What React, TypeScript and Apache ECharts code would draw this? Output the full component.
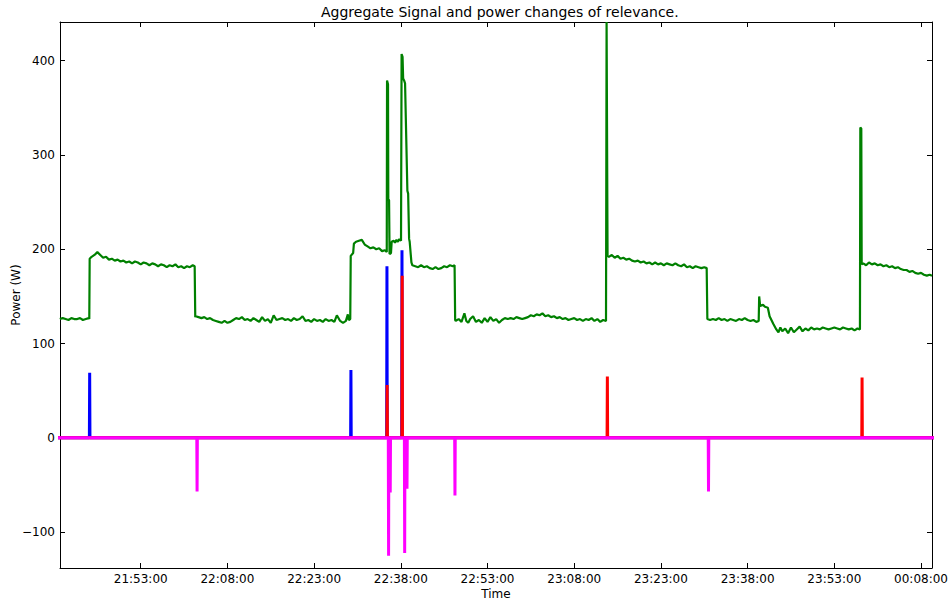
import { useEffect, useRef } from "react";
import * as echarts from "echarts";

// Visible time window and axis ticks
const timeStart = "21:39:02";
const timeEnd = "00:09:54";
const timeTicks = [
  "21:53:00", "22:08:00", "22:23:00", "22:38:00", "22:53:00",
  "23:08:00", "23:23:00", "23:38:00", "23:53:00", "00:08:00",
];
const powerTicks = [-100, 0, 100, 200, 300, 400];
const powerMin = -138;
const powerMax = 441;

// Aggregate mains signal, watts
const aggregateSignal: [string, number][] = [
  ["21:39:00", 126], ["21:39:30", 127], ["21:40:00", 126], ["21:40:30", 125], ["21:41:00", 127],
  ["21:41:30", 126], ["21:42:00", 126], ["21:42:30", 127], ["21:43:00", 125], ["21:43:30", 126],
  ["21:44:00", 127], ["21:44:06", 126], ["21:44:10", 190],
  ["21:44:30", 192], ["21:45:00", 194], ["21:45:30", 197], ["21:46:00", 194], ["21:46:30", 191],
  ["21:47:00", 192], ["21:47:30", 189], ["21:48:00", 190], ["21:48:30", 188], ["21:49:00", 189],
  ["21:49:30", 187], ["21:50:00", 188], ["21:50:30", 186], ["21:51:00", 187], ["21:51:30", 185],
  ["21:52:00", 187], ["21:52:30", 186], ["21:53:00", 184], ["21:53:30", 186], ["21:54:00", 185],
  ["21:54:30", 183], ["21:55:00", 185], ["21:55:30", 184], ["21:56:00", 182], ["21:56:30", 184],
  ["21:57:00", 183], ["21:57:30", 181], ["21:58:00", 183], ["21:58:30", 182], ["21:59:00", 184],
  ["21:59:30", 181], ["22:00:00", 182], ["22:00:30", 180], ["22:01:00", 182], ["22:01:30", 181],
  ["22:02:00", 183], ["22:02:20", 182], ["22:02:26", 128],
  ["22:02:30", 129], ["22:03:00", 128], ["22:03:30", 127], ["22:04:00", 128], ["22:04:30", 126],
  ["22:05:00", 127], ["22:05:30", 125], ["22:06:00", 124], ["22:06:30", 123], ["22:07:00", 122],
  ["22:07:30", 124], ["22:08:00", 122], ["22:08:30", 123], ["22:09:00", 125], ["22:09:30", 127],
  ["22:10:00", 126], ["22:10:30", 128], ["22:11:00", 125], ["22:11:30", 126], ["22:12:00", 124],
  ["22:12:30", 127], ["22:13:00", 125], ["22:13:30", 123], ["22:14:00", 128], ["22:14:30", 124],
  ["22:15:00", 126], ["22:15:30", 122], ["22:16:00", 130], ["22:16:30", 125], ["22:17:00", 126],
  ["22:17:30", 127], ["22:18:00", 125], ["22:18:30", 126], ["22:19:00", 124], ["22:19:30", 127],
  ["22:20:00", 125], ["22:20:30", 126], ["22:21:00", 129], ["22:21:30", 124], ["22:22:00", 125],
  ["22:22:30", 123], ["22:23:00", 126], ["22:23:30", 124], ["22:24:00", 125], ["22:24:30", 123],
  ["22:25:00", 126], ["22:25:30", 124], ["22:26:00", 125], ["22:26:30", 123], ["22:26:56", 130],
  ["22:27:30", 124], ["22:28:00", 122], ["22:28:30", 124], ["22:28:50", 131], ["22:29:00", 125],
  ["22:29:15", 126], ["22:29:20", 193],
  ["22:29:45", 196], ["22:29:53", 206], ["22:30:15", 208], ["22:30:45", 209], ["22:31:15", 210],
  ["22:31:45", 205], ["22:32:15", 203], ["22:32:45", 201], ["22:33:15", 202], ["22:33:45", 200],
  ["22:34:15", 201], ["22:34:45", 198], ["22:35:15", 199], ["22:35:34", 197],
  ["22:35:37", 379], ["22:35:47", 375], ["22:35:50", 253], ["22:35:58", 252], ["22:36:03", 195],
  ["22:36:18", 196], ["22:36:25", 208], ["22:36:45", 209], ["22:37:00", 207], ["22:37:15", 210],
  ["22:37:30", 208], ["22:37:45", 211], ["22:38:02", 209],
  ["22:38:08", 407], ["22:38:18", 404], ["22:38:24", 381], ["22:38:34", 379], ["22:38:44", 376],
  ["22:39:08", 262], ["22:39:16", 259], ["22:39:26", 211], ["22:39:32", 208], ["22:39:50", 186],
  ["22:40:00", 183], ["22:40:30", 182], ["22:41:00", 181], ["22:41:30", 183], ["22:42:00", 181],
  ["22:42:30", 182], ["22:43:00", 180], ["22:43:30", 179], ["22:44:00", 181], ["22:44:30", 179],
  ["22:45:00", 180], ["22:45:30", 182], ["22:46:00", 181], ["22:46:30", 183], ["22:47:00", 182],
  ["22:47:18", 183], ["22:47:24", 125],
  ["22:47:30", 124], ["22:48:00", 126], ["22:48:30", 123], ["22:49:00", 132], ["22:49:20", 124],
  ["22:49:40", 122], ["22:50:00", 126], ["22:50:30", 129], ["22:51:00", 123], ["22:51:30", 125],
  ["22:52:00", 122], ["22:52:30", 127], ["22:53:00", 123], ["22:53:30", 128], ["22:54:00", 124],
  ["22:54:30", 126], ["22:55:00", 122], ["22:55:30", 125], ["22:56:00", 127], ["22:56:30", 126],
  ["22:57:00", 127], ["22:57:30", 126], ["22:58:00", 128], ["22:58:30", 127], ["22:59:00", 126],
  ["22:59:30", 127], ["23:00:00", 128], ["23:00:30", 130], ["23:01:00", 129], ["23:01:30", 131],
  ["23:02:00", 130], ["23:02:30", 132], ["23:03:00", 129], ["23:03:30", 130], ["23:04:00", 128],
  ["23:04:30", 129], ["23:05:00", 127], ["23:05:30", 128], ["23:06:00", 126], ["23:06:30", 127],
  ["23:07:00", 125], ["23:07:30", 126], ["23:08:00", 127], ["23:08:30", 125], ["23:09:00", 126],
  ["23:09:30", 124], ["23:10:00", 126], ["23:10:30", 125], ["23:11:00", 127], ["23:11:30", 124],
  ["23:12:00", 126], ["23:12:30", 123], ["23:13:00", 125], ["23:13:30", 124],
  ["23:13:36", 441], ["23:13:42", 441], ["23:13:46", 193],
  ["23:14:00", 192], ["23:14:30", 194], ["23:15:00", 191], ["23:15:30", 193], ["23:16:00", 190],
  ["23:16:30", 191], ["23:17:00", 189], ["23:17:30", 190], ["23:18:00", 188], ["23:18:30", 187],
  ["23:19:00", 188], ["23:19:30", 186], ["23:20:00", 187], ["23:20:30", 185], ["23:21:00", 186],
  ["23:21:30", 184], ["23:22:00", 186], ["23:22:30", 184], ["23:23:00", 185], ["23:23:30", 183],
  ["23:24:00", 185], ["23:24:30", 184], ["23:25:00", 183], ["23:25:30", 185], ["23:26:00", 183],
  ["23:26:30", 182], ["23:27:00", 184], ["23:27:30", 181], ["23:28:00", 182], ["23:28:30", 180],
  ["23:29:00", 182], ["23:29:30", 181], ["23:30:00", 180], ["23:30:30", 181], ["23:30:55", 180],
  ["23:31:02", 126],
  ["23:31:30", 125], ["23:32:00", 126], ["23:32:30", 125], ["23:33:00", 127], ["23:33:30", 125],
  ["23:34:00", 126], ["23:34:30", 124], ["23:35:00", 126], ["23:35:30", 125], ["23:36:00", 124],
  ["23:36:30", 126], ["23:37:00", 125], ["23:37:30", 127], ["23:38:00", 125], ["23:38:30", 124],
  ["23:39:00", 125], ["23:39:30", 123], ["23:39:55", 124], ["23:40:00", 150], ["23:40:10", 140],
  ["23:40:40", 141], ["23:41:00", 139], ["23:41:30", 138], ["23:41:48", 129], ["23:42:26", 121],
  ["23:42:58", 115], ["23:43:20", 112], ["23:43:40", 117], ["23:44:00", 113], ["23:44:30", 116],
  ["23:45:00", 111], ["23:45:30", 117], ["23:46:00", 112], ["23:46:30", 115], ["23:47:00", 118],
  ["23:47:30", 113], ["23:48:00", 116], ["23:48:30", 114], ["23:49:00", 117], ["23:49:30", 115],
  ["23:50:00", 116], ["23:50:30", 115], ["23:51:00", 117], ["23:51:30", 116], ["23:52:00", 115],
  ["23:52:30", 116], ["23:53:00", 117], ["23:53:30", 116], ["23:54:00", 115], ["23:54:30", 117],
  ["23:55:00", 116], ["23:55:30", 115], ["23:56:00", 116], ["23:56:30", 114], ["23:57:00", 116],
  ["23:57:26", 115], ["23:57:30", 329], ["23:57:40", 328], ["23:57:44", 184],
  ["23:58:00", 185], ["23:58:30", 183], ["23:59:00", 186], ["23:59:30", 184], ["00:00:00", 185],
  ["00:00:30", 183], ["00:01:00", 184], ["00:01:30", 182], ["00:02:00", 183], ["00:02:30", 181],
  ["00:03:00", 182], ["00:03:30", 180], ["00:04:00", 181], ["00:04:30", 179], ["00:05:00", 178],
  ["00:05:30", 178], ["00:06:00", 176], ["00:06:30", 177], ["00:07:00", 175], ["00:07:30", 174],
  ["00:08:00", 175], ["00:08:30", 173], ["00:09:00", 172], ["00:09:30", 173], ["00:09:54", 172],
];

// Detected power changes, watts
const blueEvents: [string, number][] = [
  ["21:44:10", 69], ["22:29:22", 72], ["22:35:36", 182], ["22:38:12", 199],
];
const redEvents: [string, number][] = [
  ["22:35:38", 56], ["22:38:14", 172], ["23:13:44", 65], ["23:57:48", 64],
];
const magentaEvents: [string, number][] = [
  ["22:02:45", -57], ["22:35:53", -125], ["22:36:10", -58], ["22:38:40", -122],
  ["22:39:04", -54], ["22:47:22", -61], ["23:31:14", -57],
];

const FONT = "DejaVu Sans";

// minutes since 21:00, continuing past midnight
function toMinutes(t: string): number {
  const [h, m, s] = t.split(":").map(Number);
  const hh = h < 12 ? h + 24 : h;
  return hh * 60 + m + s / 60 - 21 * 60;
}

function pad(n: number): string {
  return n < 10 ? "0" + n : String(n);
}

function formatTime(v: number): string {
  const total = Math.round((v + 21 * 60) * 60);
  const h = Math.floor(total / 3600) % 24;
  const m = Math.floor(total / 60) % 60;
  const s = total % 60;
  return `${pad(h)}:${pad(m)}:${pad(s)}`;
}

const xMin = toMinutes(timeStart);
const xMax = toMinutes(timeEnd);
const xTickValues = timeTicks.map(toMinutes);

// zero everywhere except a narrow spike at each event
function spikeLine(events: [string, number][]): number[][] {
  const hw = 0.05;
  const pts: number[][] = [[xMin - 1, 0]];
  for (const [t, v] of events) {
    const x = toMinutes(t);
    pts.push([x - hw, 0], [x, v], [x + hw, 0]);
  }
  pts.push([xMax + 1, 0]);
  return pts;
}

export default function App() {
  const ref = useRef<HTMLDivElement>(null);

  useEffect(() => {
    if (!ref.current) return;
    const chart = echarts.init(ref.current, undefined, { renderer: "svg" });

    const axisLine = { show: true, onZero: false, lineStyle: { color: "#000", width: 1 } };
    const tickStyle = { color: "#000", width: 1 };
    const labelStyle = { color: "#000", fontSize: 12, fontFamily: FONT };

    chart.setOption({
      animation: false,
      backgroundColor: "#fff",
      title: {
        text: "Aggregate Signal and power changes of relevance.",
        left: 316,
        top: 0,
        textStyle: { color: "#000", fontSize: 14, fontWeight: "normal", fontFamily: FONT },
      },
      grid: { left: 60, right: 17, top: 22, bottom: 35, containLabel: false, outerBoundsMode: "none" },
      xAxis: [
        {
          type: "value",
          position: "bottom",
          min: xMin,
          max: xMax,
          axisLine,
          axisTick: { show: true, inside: true, length: 5, customValues: xTickValues, lineStyle: tickStyle },
          axisLabel: { ...labelStyle, customValues: xTickValues, formatter: formatTime, margin: 5 },
          splitLine: { show: false },
          name: "Time",
          nameLocation: "middle",
          nameGap: 20,
          nameMoveOverlap: false,
          nameTextStyle: { ...labelStyle },
        },
        {
          type: "value",
          position: "top",
          min: xMin,
          max: xMax,
          axisLine,
          axisTick: { show: true, inside: true, length: 5, customValues: xTickValues, lineStyle: tickStyle },
          axisLabel: { show: false },
          splitLine: { show: false },
        },
      ],
      yAxis: [
        {
          type: "value",
          position: "left",
          min: powerMin,
          max: powerMax,
          axisLine,
          axisTick: { show: true, inside: true, length: 5, customValues: powerTicks, lineStyle: tickStyle },
          axisLabel: {
            ...labelStyle,
            customValues: powerTicks,
            margin: 5,
            formatter: (v: number) => String(v).replace("-", "\u2212"),
          },
          splitLine: { show: false },
          name: "Power (W)",
          nameLocation: "middle",
          nameGap: 38,
          nameRotate: 90,
          nameMoveOverlap: false,
          nameTextStyle: { ...labelStyle },
        },
        {
          type: "value",
          position: "right",
          min: powerMin,
          max: powerMax,
          axisLine,
          axisTick: { show: true, inside: true, length: 5, customValues: powerTicks, lineStyle: tickStyle },
          axisLabel: { show: false },
          splitLine: { show: false },
        },
      ],
      series: [
        {
          type: "line",
          xAxisIndex: 0,
          yAxisIndex: 0,
          data: aggregateSignal.map(([t, w]) => [toMinutes(t), w]),
          showSymbol: false,
          symbol: "none",
          clip: true,
          lineStyle: { color: "#008000", width: 2.2 },
          itemStyle: { color: "#008000" },
        },
        {
          type: "line",
          data: spikeLine(blueEvents),
          showSymbol: false,
          symbol: "none",
          clip: true,
          lineStyle: { color: "#0000ff", width: 3 },
          itemStyle: { color: "#0000ff" },
        },
        {
          type: "line",
          data: spikeLine(redEvents),
          showSymbol: false,
          symbol: "none",
          clip: true,
          lineStyle: { color: "#ff0000", width: 3 },
          itemStyle: { color: "#ff0000" },
        },
        {
          type: "line",
          data: spikeLine(magentaEvents),
          showSymbol: false,
          symbol: "none",
          clip: true,
          lineStyle: { color: "#ff00ff", width: 3 },
          itemStyle: { color: "#ff00ff" },
        },
      ],
    });

    return () => chart.dispose();
  }, []);

  return (
    <div
      ref={ref}
      style={{ position: "fixed", left: 0, top: 0, width: 949, height: 603, background: "#fff" }}
    />
  );
}
